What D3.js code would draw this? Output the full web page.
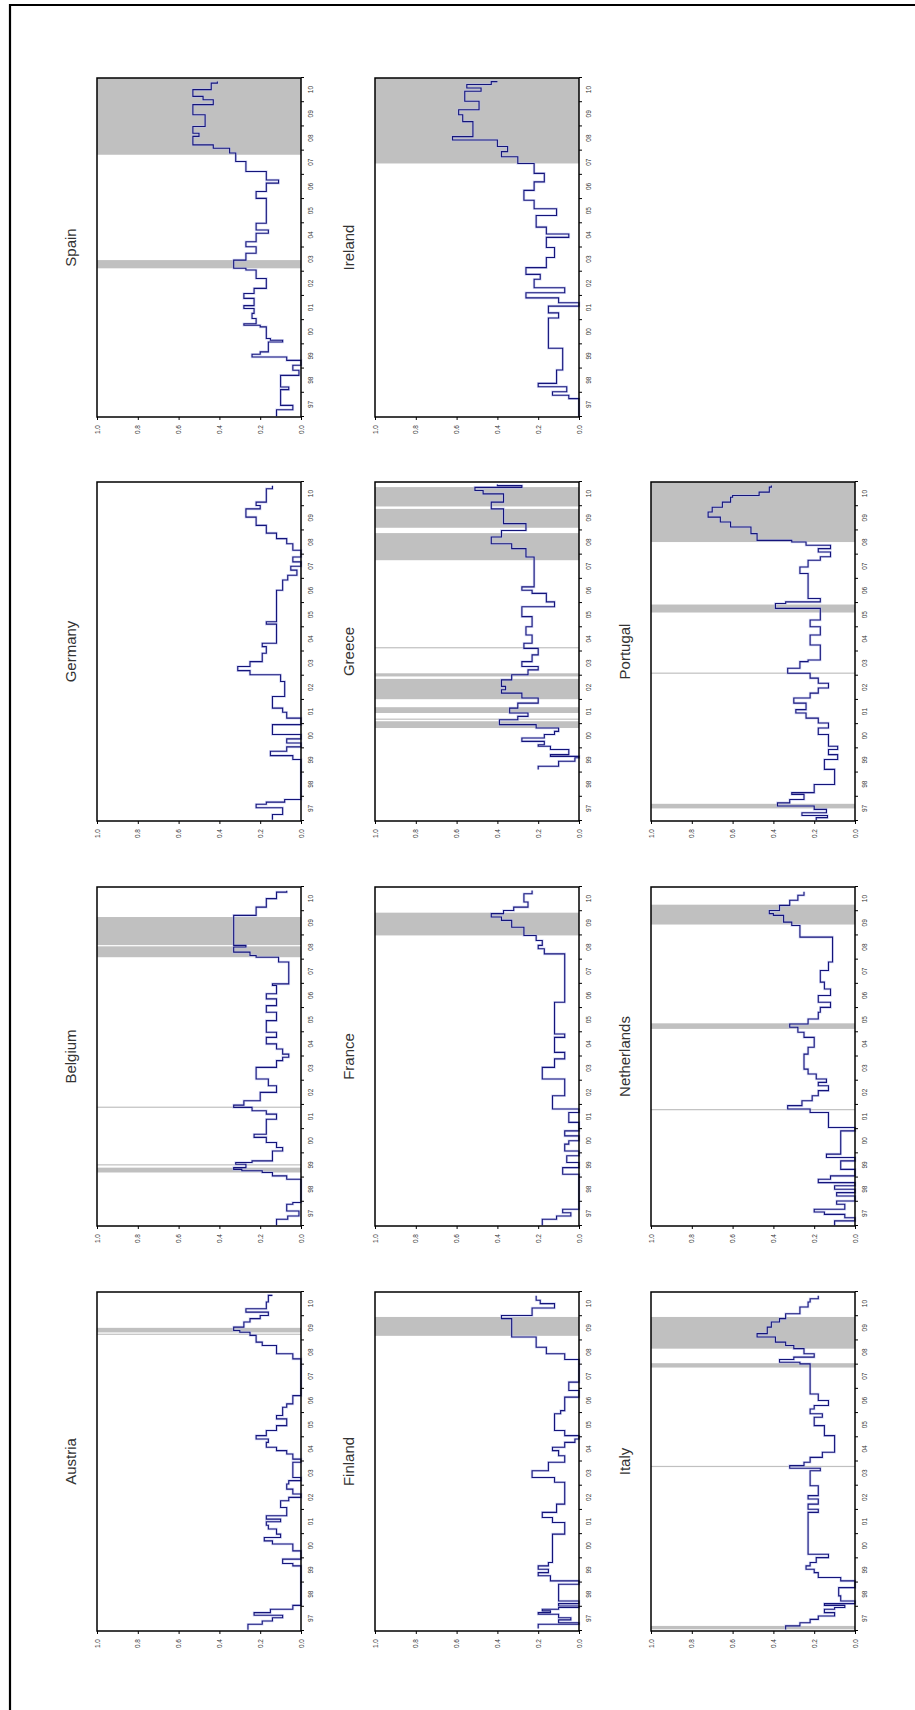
<!DOCTYPE html>
<html><head><meta charset="utf-8">
<script src="https://cdn.jsdelivr.net/npm/d3@7"></script>
<style>body{margin:0;background:#fff}svg{display:block}</style>
</head><body>
<svg id="c" width="915" height="1710"></svg>
<script>
// ---------- data ----------
const yearLabels = ["97","98","99","00","01","02","03","04","05","06","07","08","09","10"];
const yearTicks = [1997,1998,1999,2000,2001,2002,2003,2004,2005,2006,2007,2008,2009,2010,2011];
const valueTicks = [0,0.2,0.4,0.6,0.8,1.0];

const spainSeries = [[1997.03,0.12],[1997.3,0.04],[1997.48,0.10],[1998.13,0.06],[1998.24,0.10],[1998.72,0.01],[1998.93,0.04],[1999.14,0.0],[1999.34,0.07],[1999.48,0.24],[1999.59,0.20],[1999.69,0.16],[2000.1,0.09],[2000.17,0.15],[2000.24,0.17],[2000.72,0.20],[2000.79,0.28],[2000.85,0.22],[2001.07,0.24],[2001.28,0.23],[2001.48,0.28],[2001.6,0.23],[2001.9,0.28],[2002.1,0.23],[2002.31,0.17],[2002.72,0.22],[2003.07,0.27],[2003.14,0.33],[2003.48,0.27],[2003.76,0.22],[2004.03,0.27],[2004.24,0.22],[2004.59,0.16],[2004.72,0.22],[2005.0,0.17],[2006.03,0.22],[2006.31,0.17],[2006.66,0.11],[2006.79,0.17],[2007.14,0.27],[2007.55,0.32],[2007.9,0.35],[2008.1,0.43],[2008.24,0.53],[2008.59,0.50],[2008.72,0.53],[2009.0,0.47],[2009.48,0.53],[2009.9,0.43],[2010.1,0.48],[2010.24,0.53],[2010.52,0.44],[2010.79,0.41],[2010.86,0.41]];
const spainBands = [[2003.14,2003.48],[2007.83,2011]];

const irelandSeries = [[1997.03,0.0],[1997.76,0.05],[1997.9,0.13],[1998.04,0.06],[1998.25,0.20],[1998.39,0.11],[1998.94,0.08],[1999.84,0.15],[2001.09,0.10],[2001.3,0.15],[2001.58,0.0],[2001.72,0.10],[2001.92,0.26],[2002.13,0.07],[2002.34,0.22],[2002.69,0.19],[2002.89,0.26],[2003.17,0.16],[2003.59,0.12],[2004.0,0.16],[2004.42,0.05],[2004.56,0.16],[2004.84,0.21],[2005.32,0.11],[2005.6,0.22],[2005.95,0.27],[2006.36,0.22],[2006.71,0.17],[2007.06,0.22],[2007.47,0.30],[2007.75,0.38],[2007.96,0.35],[2008.17,0.40],[2008.44,0.62],[2008.58,0.52],[2009.2,0.57],[2009.48,0.59],[2009.69,0.49],[2010.04,0.56],[2010.45,0.48],[2010.59,0.55],[2010.73,0.43],[2010.85,0.40]];
const irelandBands = [[2007.47,2011]];

const germanySeries = [[1997.05,0.14],[1997.27,0.09],[1997.55,0.22],[1997.69,0.17],[1997.78,0.08],[1997.89,0.0],[1999.54,0.04],[1999.7,0.15],[1999.88,0.07],[2000.06,0.0],[2000.22,0.07],[2000.39,0.0],[2000.57,0.14],[2000.98,0.0],[2001.25,0.07],[2001.49,0.09],[2001.66,0.14],[2002.14,0.08],[2002.76,0.10],[2003.04,0.25],[2003.21,0.31],[2003.38,0.25],[2003.58,0.19],[2003.93,0.17],[2004.2,0.19],[2004.34,0.12],[2005.13,0.17],[2005.23,0.12],[2006.53,0.09],[2006.95,0.065],[2007.15,0.02],[2007.36,0.05],[2007.52,0.0],[2007.7,0.04],[2007.9,0.0],[2008.18,0.04],[2008.45,0.07],[2008.66,0.12],[2008.89,0.17],[2009.21,0.22],[2009.55,0.27],[2009.89,0.20],[2010.03,0.22],[2010.17,0.17],[2010.72,0.14],[2010.85,0.14]];
const germanyBands = [];

const greeceSeries = [[1999.13,0.20],[1999.26,0.10],[1999.47,0.02],[1999.61,0.0],[1999.67,0.14],[1999.74,0.05],[1999.95,0.14],[2000.09,0.20],[2000.15,0.17],[2000.29,0.28],[2000.43,0.17],[2000.57,0.12],[2000.7,0.10],[2000.84,0.21],[2000.98,0.39],[2001.18,0.30],[2001.32,0.25],[2001.46,0.34],[2001.66,0.30],[2001.87,0.20],[2002.08,0.28],[2002.28,0.38],[2002.42,0.36],[2002.56,0.38],[2002.83,0.33],[2003.04,0.25],[2003.24,0.20],[2003.38,0.28],[2003.58,0.23],[2003.86,0.20],[2004.13,0.27],[2004.34,0.23],[2004.68,0.26],[2005.02,0.23],[2005.44,0.28],[2005.85,0.12],[2006.05,0.16],[2006.4,0.23],[2006.53,0.28],[2006.67,0.22],[2007.7,0.22],[2007.9,0.26],[2008.25,0.33],[2008.45,0.43],[2008.73,0.38],[2009.0,0.26],[2009.28,0.37],[2009.76,0.37],[2009.89,0.43],[2010.17,0.37],[2010.51,0.47],[2010.65,0.51],[2010.78,0.28],[2010.85,0.40],[2010.9,0.40]];
const greeceBands = [[2000.84,2001.12],[2001.18,2001.22],[2001.46,2001.7],[2002.03,2002.87],[2002.97,2003.1],[2004.13,2004.17],[2007.77,2008.89],[2009.11,2009.89],[2009.99,2010.79]];

const portugalSeries = [[1997.03,0.19],[1997.14,0.135],[1997.23,0.26],[1997.34,0.14],[1997.48,0.20],[1997.62,0.38],[1997.75,0.32],[1997.89,0.25],[1998.1,0.31],[1998.17,0.20],[1998.51,0.10],[1999.13,0.15],[1999.54,0.085],[1999.74,0.13],[1999.95,0.085],[2000.09,0.13],[2000.57,0.18],[2000.84,0.13],[2001.05,0.18],[2001.25,0.24],[2001.46,0.29],[2001.6,0.24],[2001.87,0.30],[2002.08,0.22],[2002.28,0.18],[2002.49,0.13],[2002.69,0.18],[2002.9,0.22],[2003.1,0.33],[2003.31,0.27],[2003.58,0.23],[2003.65,0.17],[2004.27,0.22],[2004.68,0.17],[2005.02,0.22],[2005.3,0.17],[2005.78,0.39],[2005.98,0.34],[2006.05,0.17],[2006.19,0.23],[2007.01,0.23],[2007.22,0.27],[2007.49,0.23],[2007.77,0.17],[2007.91,0.12],[2008.11,0.18],[2008.25,0.12],[2008.39,0.24],[2008.52,0.31],[2008.59,0.48],[2008.87,0.51],[2009.14,0.61],[2009.35,0.66],[2009.55,0.72],[2009.76,0.70],[2009.96,0.65],[2010.17,0.61],[2010.37,0.60],[2010.44,0.47],[2010.58,0.42],[2010.79,0.41],[2010.86,0.41]];
const portugalBands = [[1997.52,1997.71],[2003.08,2003.12],[2005.61,2005.94],[2008.52,2011]];

const belgiumSeries = [[1997.03,0.12],[1997.28,0.065],[1997.41,0.01],[1997.62,0.07],[1997.9,0.04],[1997.97,0.0],[1998.86,0.0],[1998.93,0.07],[1999.07,0.14],[1999.21,0.19],[1999.28,0.29],[1999.34,0.33],[1999.41,0.27],[1999.55,0.32],[1999.62,0.24],[1999.69,0.14],[2000.1,0.09],[2000.24,0.12],[2000.45,0.17],[2000.66,0.23],[2000.79,0.17],[2001.41,0.12],[2001.62,0.17],[2001.76,0.24],[2001.9,0.33],[2001.99,0.28],[2002.17,0.20],[2002.52,0.12],[2002.79,0.16],[2003.07,0.22],[2003.55,0.12],[2003.83,0.09],[2003.97,0.06],[2004.1,0.09],[2004.31,0.12],[2004.52,0.17],[2004.79,0.12],[2005.0,0.17],[2005.48,0.12],[2005.83,0.17],[2006.1,0.12],[2006.38,0.17],[2006.59,0.12],[2006.93,0.14],[2007.0,0.06],[2007.9,0.11],[2008.1,0.22],[2008.17,0.25],[2008.31,0.33],[2008.52,0.27],[2008.59,0.33],[2009.76,0.33],[2009.83,0.22],[2010.17,0.17],[2010.52,0.12],[2010.79,0.07],[2010.85,0.07]];
const belgiumBands = [[1999.21,1999.41],[1999.5,1999.53],[2001.88,2001.92],[2008.1,2008.55],[2008.6,2009.76]];

const franceSeries = [[1997.03,0.18],[1997.28,0.11],[1997.41,0.04],[1997.55,0.08],[1997.69,0.0],[1999.14,0.08],[1999.41,0.0],[1999.62,0.06],[1999.9,0.0],[2000.1,0.07],[2000.38,0.05],[2000.52,0.0],[2000.72,0.07],[2000.93,0.0],[2001.28,0.05],[2001.69,0.0],[2001.83,0.13],[2002.38,0.07],[2003.07,0.18],[2003.55,0.12],[2003.9,0.07],[2004.17,0.12],[2004.79,0.07],[2004.93,0.12],[2006.24,0.07],[2008.24,0.17],[2008.45,0.20],[2008.59,0.18],[2008.79,0.21],[2009.0,0.27],[2009.34,0.33],[2009.62,0.38],[2009.76,0.43],[2009.9,0.37],[2010.03,0.32],[2010.17,0.25],[2010.38,0.27],[2010.72,0.23],[2010.86,0.23]];
const franceBands = [[2009.0,2009.94]];

const netherlandsSeries = [[1997.03,0.10],[1997.21,0.0],[1997.34,0.05],[1997.48,0.15],[1997.58,0.20],[1997.69,0.05],[1997.9,0.09],[1998.03,0.0],[1998.24,0.09],[1998.38,0.0],[1998.52,0.10],[1998.66,0.0],[1998.79,0.18],[1998.93,0.12],[1999.07,0.0],[1999.34,0.07],[1999.69,0.0],[1999.83,0.14],[1999.97,0.07],[2000.93,0.0],[2001.07,0.13],[2001.69,0.22],[2001.83,0.33],[2001.97,0.26],[2002.17,0.21],[2002.38,0.18],[2002.59,0.13],[2002.79,0.18],[2002.93,0.14],[2003.07,0.19],[2003.28,0.23],[2003.48,0.25],[2004.1,0.23],[2004.38,0.20],[2004.79,0.25],[2005.0,0.28],[2005.21,0.32],[2005.34,0.23],[2005.55,0.18],[2005.83,0.17],[2006.03,0.12],[2006.24,0.18],[2006.52,0.12],[2006.79,0.15],[2007.07,0.17],[2007.55,0.13],[2007.9,0.11],[2008.93,0.27],[2009.41,0.31],[2009.55,0.35],[2009.83,0.40],[2009.9,0.42],[2010.03,0.37],[2010.24,0.32],[2010.45,0.28],[2010.66,0.25],[2010.8,0.25]];
const netherlandsBands = [[2001.78,2001.82],[2005.14,2005.37],[2009.45,2010.27]];

const austriaSeries = [[1997.05,0.26],[1997.28,0.19],[1997.41,0.14],[1997.55,0.09],[1997.65,0.23],[1997.76,0.15],[1997.9,0.04],[1998.06,0.0],[1999.69,0.04],[1999.79,0.09],[1999.97,0.0],[2000.31,0.04],[2000.59,0.14],[2000.72,0.18],[2000.86,0.10],[2001.0,0.12],[2001.21,0.16],[2001.37,0.17],[2001.51,0.10],[2001.62,0.17],[2001.76,0.07],[2002.1,0.10],[2002.38,0.06],[2002.52,0.0],[2002.66,0.04],[2002.86,0.07],[2003.07,0.06],[2003.21,0.0],[2003.34,0.04],[2003.97,0.0],[2004.1,0.04],[2004.31,0.07],[2004.45,0.12],[2004.59,0.17],[2004.79,0.16],[2004.93,0.22],[2005.07,0.17],[2005.28,0.12],[2005.48,0.07],[2005.76,0.12],[2005.9,0.09],[2006.24,0.07],[2006.38,0.04],[2006.72,0.0],[2008.24,0.04],[2008.45,0.12],[2008.79,0.19],[2008.93,0.22],[2009.21,0.25],[2009.34,0.30],[2009.41,0.33],[2009.55,0.28],[2009.76,0.25],[2009.9,0.20],[2010.03,0.16],[2010.17,0.27],[2010.31,0.17],[2010.59,0.16],[2010.86,0.14]];
const austriaBands = [[2009.23,2009.27],[2009.33,2009.52]];

const finlandSeries = [[1997.1,0.20],[1997.28,0.0],[1997.34,0.10],[1997.46,0.04],[1997.55,0.10],[1997.69,0.20],[1997.76,0.14],[1997.83,0.18],[1997.9,0.10],[1997.97,0.0],[1998.03,0.10],[1998.13,0.0],[1998.24,0.10],[1998.93,0.0],[1999.07,0.14],[1999.28,0.20],[1999.41,0.15],[1999.55,0.20],[1999.69,0.15],[1999.83,0.13],[2001.0,0.07],[2001.48,0.13],[2001.69,0.18],[2001.9,0.11],[2002.24,0.07],[2003.14,0.12],[2003.34,0.23],[2003.62,0.15],[2003.97,0.07],[2004.24,0.10],[2004.45,0.13],[2004.59,0.07],[2004.79,0.02],[2004.93,0.0],[2005.07,0.07],[2005.28,0.12],[2005.97,0.09],[2006.1,0.07],[2006.66,0.0],[2006.93,0.05],[2007.28,0.0],[2008.21,0.07],[2008.45,0.16],[2008.72,0.21],[2009.14,0.33],[2009.9,0.38],[2010.03,0.23],[2010.34,0.12],[2010.52,0.19],[2010.66,0.21],[2010.84,0.21]];
const finlandBands = [[2009.19,2009.97]];

const italySeries = [[1997.06,0.34],[1997.21,0.27],[1997.34,0.22],[1997.48,0.18],[1997.62,0.10],[1997.76,0.15],[1997.9,0.10],[1997.97,0.05],[1998.06,0.15],[1998.13,0.0],[1998.24,0.07],[1998.45,0.08],[1998.79,0.0],[1999.07,0.07],[1999.21,0.18],[1999.41,0.20],[1999.55,0.24],[1999.69,0.22],[1999.83,0.19],[2000.03,0.13],[2000.17,0.23],[2001.9,0.18],[2002.03,0.23],[2002.24,0.18],[2002.45,0.23],[2002.59,0.18],[2003.0,0.22],[2003.62,0.17],[2003.72,0.32],[2003.83,0.25],[2003.97,0.22],[2004.17,0.16],[2004.38,0.10],[2005.07,0.15],[2005.48,0.20],[2005.83,0.16],[2005.97,0.22],[2006.17,0.20],[2006.31,0.13],[2006.52,0.18],[2006.79,0.22],[2008.03,0.27],[2008.1,0.37],[2008.21,0.30],[2008.31,0.20],[2008.45,0.25],[2008.66,0.30],[2008.79,0.34],[2008.93,0.39],[2009.14,0.48],[2009.28,0.43],[2009.55,0.41],[2009.76,0.37],[2009.9,0.34],[2010.1,0.27],[2010.38,0.23],[2010.59,0.22],[2010.72,0.18],[2010.84,0.18]];
const italyBands = [[1997.07,1997.21],[2003.77,2003.81],[2007.88,2008.06],[2008.66,2009.97]];

// panel placement: column index and row index on the page
const panels = [
  {name:"Spain", series:spainSeries, bands:spainBands, col:0, row:0},
  {name:"Ireland", series:irelandSeries, bands:irelandBands, col:1, row:0},
  {name:"Germany", series:germanySeries, bands:germanyBands, col:0, row:1},
  {name:"Greece", series:greeceSeries, bands:greeceBands, col:1, row:1},
  {name:"Portugal", series:portugalSeries, bands:portugalBands, col:2, row:1},
  {name:"Belgium", series:belgiumSeries, bands:belgiumBands, col:0, row:2},
  {name:"France", series:franceSeries, bands:franceBands, col:1, row:2},
  {name:"Netherlands", series:netherlandsSeries, bands:netherlandsBands, col:2, row:2},
  {name:"Austria", series:austriaSeries, bands:austriaBands, col:0, row:3},
  {name:"Finland", series:finlandSeries, bands:finlandBands, col:1, row:3},
  {name:"Italy", series:italySeries, bands:italyBands, col:2, row:3}
];

// ---------- layout ----------
const colLeft = [97, 375, 651];
const rowTop = [78, 482, 887, 1292];
const T = 339; // time axis length (vertical on page)
const V = 204; // value axis length (horizontal on page)

const svg = d3.select("#c");
svg.append("rect").attr("width",915).attr("height",1710).attr("fill","#fff");
svg.append("path").attr("d","M10,1712 L10,5 L917,5").attr("fill","none").attr("stroke","#000").attr("stroke-width",2.2);

const x = d3.scaleLinear().domain([1997,2011]).range([0,T]);
const y = d3.scaleLinear().domain([0,1]).range([V,0]);
const line = d3.line().x(d=>x(d[0])).y(d=>y(d[1])).curve(d3.curveStepAfter);
const font = "'Liberation Sans', Arial, sans-serif";

panels.forEach(p=>{
  const g = svg.append("g")
    .attr("transform",`translate(${colLeft[p.col]},${rowTop[p.row]+T}) rotate(-90)`);
  g.selectAll("rect.band").data(p.bands).join("rect").attr("class","band")
    .attr("x",d=>x(d[0])).attr("width",d=>Math.max(1.2,x(d[1])-x(d[0])))
    .attr("y",0).attr("height",V).attr("fill","#c0c0c0");
  g.append("path").datum(p.series).attr("d",line)
    .attr("fill","none").attr("stroke","#b8bcf0").attr("stroke-width",2.6).attr("opacity",0.6);
  g.append("path").datum(p.series).attr("d",line)
    .attr("fill","none").attr("stroke","#14147a").attr("stroke-width",1.1);
  g.append("rect").attr("width",T).attr("height",V)
    .attr("fill","none").attr("stroke","#000").attr("stroke-width",1.5);
  // time axis (page right side)
  const ta = g.append("g").attr("transform",`translate(0,${V})`)
    .call(d3.axisBottom(x).tickValues(yearTicks).tickSize(3).tickFormat(""));
  ta.select(".domain").remove();
  const tl = g.append("g").attr("transform",`translate(0,${V})`)
    .call(d3.axisBottom(x).tickValues(yearTicks.slice(0,-1).map(v=>v+0.5)).tickSize(0).tickPadding(7)
      .tickFormat((d,i)=>yearLabels[i]));
  tl.select(".domain").remove();
  tl.selectAll("text").attr("font-size",6.5).attr("font-family",font).attr("fill","#333");
  // value axis (page bottom side)
  const va = g.append("g")
    .call(d3.axisLeft(y).tickValues(valueTicks).tickSize(3).tickPadding(5).tickFormat(d3.format(".1f")));
  va.select(".domain").remove();
  va.selectAll("text").attr("font-size",6.5).attr("font-family",font).attr("fill","#333");
  // title
  g.append("text").attr("x",T/2).attr("y",-27).attr("text-anchor","middle")
    .attr("dominant-baseline","central").attr("font-family",font).attr("font-size",15)
    .attr("fill","#333").text(p.name);
});
</script>
</body></html>
